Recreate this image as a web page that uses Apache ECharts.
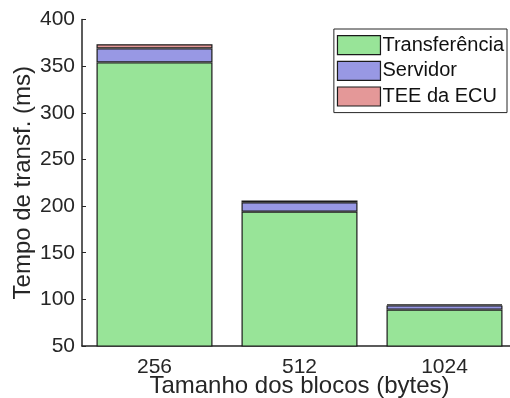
<!DOCTYPE html>
<html>
<head>
<meta charset="utf-8">
<script src="https://cdn.jsdelivr.net/npm/echarts@6/dist/echarts.min.js"></script>
<style>
  html, body { margin: 0; padding: 0; background: #fff; }
  #chart { width: 510px; height: 398px; }
</style>
</head>
<body>
<div id="chart"></div>
<script>
// Block sizes and the time each stage takes (ms)
const blockSizes = ['256', '512', '1024'];
const transferencia = [354, 194, 89];
const servidor = [15, 10, 4.5];
const teeEcu = [4.5, 2, 1];
const yTicks = { min: 50, max: 400, step: 50 };

const FONT = 'Liberation Sans, Arial, Helvetica, sans-serif';
const INK = '#262626';

function stackSeries(name, data, color) {
  return {
    name: name,
    type: 'bar',
    stack: 'total',
    data: data,
    barWidth: '80%',
    itemStyle: { color: color, borderColor: '#1a1a1a', borderWidth: 1.2 },
    emphasis: { disabled: true }
  };
}

const chart = echarts.init(document.getElementById('chart'), null, { renderer: 'canvas' });
chart.setOption({
  animation: false,
  backgroundColor: '#fff',
  // plot area runs slightly past the right edge of the canvas
  grid: {
    left: 82, top: 19.5, width: 435, bottom: 52,
    containLabel: false, outerBoundsMode: 'none'
  },
  legend: {
    orient: 'vertical',
    right: 3,
    top: 29,
    padding: [6, 3, 6, 3],
    itemGap: 5.5,
    itemWidth: 43,
    itemHeight: 19,
    borderColor: INK,
    borderWidth: 1,
    backgroundColor: '#fff',
    icon: 'rect',
    itemStyle: { borderColor: '#1a1a1a', borderWidth: 1.2 },
    textStyle: { fontFamily: FONT, fontSize: 20, color: '#111', padding: [0, 0, 0, -3] },
    data: ['Transferência', 'Servidor', 'TEE da ECU']
  },
  xAxis: {
    type: 'category',
    data: blockSizes,
    name: 'Tamanho dos blocos (bytes)',
    nameLocation: 'middle',
    nameGap: 28,
    nameMoveOverlap: false,
    nameTextStyle: { fontFamily: FONT, fontSize: 24, color: INK },
    axisLine: { lineStyle: { color: INK, width: 1.5 } },
    axisTick: { show: true, inside: true, alignWithLabel: true, length: 4, lineStyle: { color: INK } },
    axisLabel: { fontFamily: FONT, fontSize: 21, color: INK, margin: 11 }
  },
  yAxis: {
    type: 'value',
    min: yTicks.min,
    max: yTicks.max,
    interval: yTicks.step,
    name: 'Tempo de transf. (ms)',
    nameLocation: 'middle',
    nameGap: 47,
    nameMoveOverlap: false,
    nameRotate: 90,
    nameTextStyle: { fontFamily: FONT, fontSize: 24, color: INK },
    splitLine: { show: false },
    axisLine: { show: true, lineStyle: { color: INK, width: 1.5 } },
    axisTick: { show: true, inside: true, length: 4, lineStyle: { color: INK } },
    axisLabel: { fontFamily: FONT, fontSize: 21, color: INK, margin: 7 }
  },
  series: [
    stackSeries('Transferência', transferencia, '#98e498'),
    stackSeries('Servidor', servidor, '#9898e4'),
    stackSeries('TEE da ECU', teeEcu, '#e49898')
  ]
});
</script>
</body>
</html>
